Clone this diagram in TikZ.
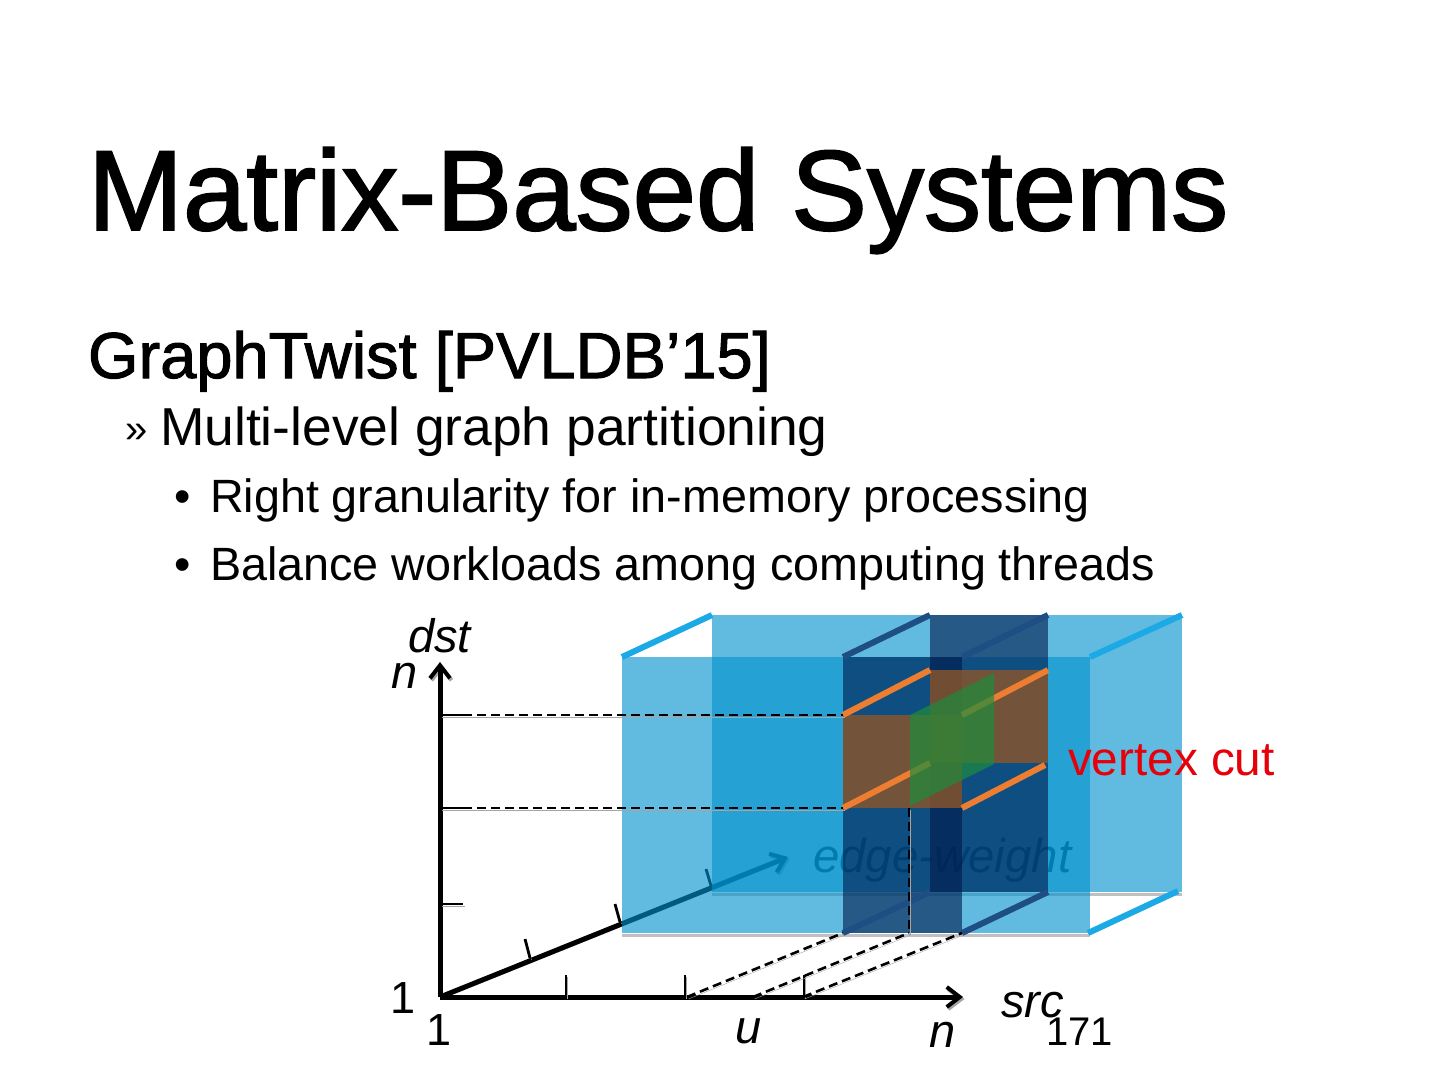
\documentclass[tikz,border=0pt]{standalone}
\usepackage{fontspec}
\setmainfont{Liberation Sans}
\newfontfamily\headfont{Liberation Sans}[FakeBold=1.6]
\usetikzlibrary{arrows.meta}
\definecolor{lb}{RGB}{0,145,205}
\definecolor{db}{RGB}{0,24,74}
\definecolor{br}{RGB}{140,85,40}
\definecolor{gr}{RGB}{30,140,60}
\definecolor{orng}{RGB}{237,125,49}
\definecolor{lbedge}{RGB}{28,170,230}
\definecolor{dbedge}{RGB}{31,78,133}
\definecolor{shadowc}{RGB}{165,165,165}
\definecolor{vcred}{RGB}{230,0,10}
\newcommand\setfs[1]{\fontsize{#1}{#1}\selectfont}
\tikzset{
  txt/.style={anchor=base west, inner sep=0pt, outer sep=0pt},
  lbl/.style={txt, font=\setfs{47}\itshape},
  num/.style={txt, font=\setfs{45}},
  shad/.style={preaction={draw=shadowc, transform canvas={shift={(1.5pt,-2pt)}}}},
  axisline/.style={line width=5pt, black, shad},
  axtip/.style={-{Straight Barb[length=13pt,width=20pt,line width=4pt]}},
  tickline/.style={line width=2.8pt, black, shad},
  dashline/.style={line width=2.6pt, black, dash pattern=on 9pt off 5pt, shad},
  lightface/.style={fill=lb, fill opacity=0.62},
  darkface/.style={fill=db, fill opacity=0.6},
  brownface/.style={fill=br, fill opacity=0.8},
  greenface/.style={fill=gr, fill opacity=0.7},
  lightedge/.style={line width=6pt, lbedge, shad},
  darkedge/.style={line width=6pt, dbedge},
  orangeedge/.style={line width=6pt, orng},
}
\begin{document}
\begin{tikzpicture}[x=1pt, y=-1pt]
\useasboundingbox (0,0) rectangle (1440,1080);

% ---------------- texts of the slide ----------------
\node[txt, font=\headfont\setfs{114}] (title) at (88,230) {Matrix-Based Systems};
\node[txt, font=\headfont\setfs{65}] (sub) at (88,378) {GraphTwist [PVLDB’15]};
\node[txt, font=\setfs{40}] (b1m) at (125,442) {»};
\node[txt, font=\setfs{53.4}] (b1) at (160,445) {Multi-level graph partitioning};
\node[txt, font=\setfs{46.7}] (b2m) at (174,512) {•};
\node[txt, font=\setfs{46.7}] (b2) at (210,512) {Right granularity for in-memory processing};
\node[txt, font=\setfs{46.7}] (b3m) at (174,580) {•};
\node[txt, font=\setfs{46.7}] (b3) at (210,580) {Balance workloads among computing threads};

% ---------------- coordinates ----------------
\coordinate (O) at (440,997);
\coordinate (dsttip) at (440,662);
\coordinate (srctip) at (963,997);
\coordinate (ewtip) at (788,857);

% edge-weight label and axis (under the translucent slabs)
\node[lbl, font=\setfs{47.4}\itshape] (ew) at (813,872) {edge-weight};
\draw[axisline, axtip] (O) -- (ewtip);
\coordinate (et1a) at (530,958); \coordinate (et1b) at (525,939);
\coordinate (et2a) at (620,922); \coordinate (et2b) at (615,904);
\coordinate (et3a) at (712,889); \coordinate (et3b) at (706,869);
\draw[tickline] (et1a) -- (et1b);
\draw[tickline] (et2a) -- (et2b);
\draw[tickline] (et3a) -- (et3b);

% shadows of the big slab
\coordinate (sh1a) at (622,935.5); \coordinate (sh1b) at (1090,935.5);
\coordinate (sh2a) at (712,894.5); \coordinate (sh2b) at (1182,894.5);
\draw[shadowc!70, line width=3pt] (sh1a) -- (sh1b);
\draw[shadowc!70, line width=3pt] (sh2a) -- (sh2b);

% light slab faces
\coordinate (LB1) at (712,615); \coordinate (LB2) at (1182,892);
\coordinate (LF1) at (622,657); \coordinate (LF2) at (1090,933);
\fill[lightface] (LB1) rectangle (LB2);
\fill[lightface] (LF1) rectangle (LF2);

% dark slab faces
\coordinate (DB1) at (930,615); \coordinate (DB2) at (1048,892);
\coordinate (DF1) at (843,657); \coordinate (DF2) at (962,933);
\fill[darkface] (DB1) rectangle (DB2);
\fill[darkface] (DF1) rectangle (DF2);

% brown block faces
\coordinate (BB1) at (930,670); \coordinate (BB2) at (1048,763);
\coordinate (BF1) at (843,715); \coordinate (BF2) at (962,808);
\fill[brownface] (BB1) rectangle (BB2);
\fill[brownface] (BF1) rectangle (BF2);

% orange edges of the brown block
\coordinate (BTL) at (930,670); \coordinate (BTR) at (1048,670);
\coordinate (BBL) at (930,763); \coordinate (BBR) at (1045,765);
\coordinate (FTL) at (843,715); \coordinate (FTR) at (962,715);
\coordinate (FBL) at (843,808); \coordinate (FBR) at (962,808);
\draw[orangeedge] (FTL) -- (BTL);
\draw[orangeedge] (FTR) -- (BTR);
\draw[orangeedge] (FBL) -- (BBL);
\draw[orangeedge] (FBR) -- (BBR);

% green cut plane
\coordinate (G1) at (910,715); \coordinate (G2) at (994,673);
\coordinate (G3) at (994,764); \coordinate (G4) at (910,806);
\fill[greenface] (G1) -- (G2) -- (G3) -- (G4) -- cycle;

% depth edges of the slabs
\coordinate (le1a) at (622,657); \coordinate (le1b) at (712,615);
\coordinate (le2a) at (1090,657); \coordinate (le2b) at (1182,615);
\coordinate (le3a) at (1088,933); \coordinate (le3b) at (1178,891);
\draw[lightedge] (le1a) -- (le1b);
\draw[lightedge] (le2a) -- (le2b);
\draw[lightedge] (le3a) -- (le3b);
\coordinate (de1a) at (843,657); \coordinate (de1b) at (930,615);
\coordinate (de2a) at (962,657); \coordinate (de2b) at (1048,615);
\coordinate (de3a) at (843,933); \coordinate (de3b) at (930,892);
\coordinate (de4a) at (962,933); \coordinate (de4b) at (1048,892);
\draw[darkedge] (de1a) -- (de1b);
\draw[darkedge] (de2a) -- (de2b);
\draw[darkedge] (de3a) -- (de3b);
\draw[darkedge] (de4a) -- (de4b);

% axes
\draw[axisline, axtip] (O) -- (dsttip);
\draw[axisline, axtip] (O) -- (srctip);

% ticks on dst axis
\coordinate (dt1a) at (440,715); \coordinate (dt1b) at (463,715);
\coordinate (dt2a) at (440,808); \coordinate (dt2b) at (463,808);
\coordinate (dt3a) at (440,904); \coordinate (dt3b) at (463,904);
\draw[tickline] (dt1a) -- (dt1b);
\draw[tickline] (dt2a) -- (dt2b);
\draw[tickline] (dt3a) -- (dt3b);
% ticks on src axis
\coordinate (st1a) at (566,997); \coordinate (st1b) at (566,975);
\coordinate (st2a) at (685,997); \coordinate (st2b) at (685,975);
\coordinate (st3a) at (804,997); \coordinate (st3b) at (804,975);
\draw[tickline] (st1a) -- (st1b);
\draw[tickline] (st2a) -- (st2b);
\draw[tickline] (st3a) -- (st3b);

% dashed projection lines
\draw[dashline] (dt1b) -- (FTL);
\draw[dashline] (dt2b) -- (FBL);
\coordinate (vtop) at (909,808); \coordinate (vbot) at (909,933);
\draw[dashline] (vtop) -- (vbot);
\coordinate (p1) at (687,997); \coordinate (p2) at (753,997); \coordinate (p3) at (803,997);
\draw[dashline] (p1) -- (de3a);
\draw[dashline] (p2) -- (vbot);
\draw[dashline] (p3) -- (de4a);

% labels
\node[lbl] (dst) at (408,652) {dst};
\node[lbl] (ntop) at (391,688) {n};
\node[num] (oneL) at (390,1013) {1};
\node[num] (oneB) at (426,1045) {1};
\node[lbl] (u) at (735,1043) {u};
\node[lbl] (nb) at (929,1047) {n};
\node[lbl] (src) at (1001,1017) {src};
\node[txt, font=\setfs{40}] (pg) at (1046,1045) {171};
\node[txt, font=\setfs{47.7}, text=vcred] (vc) at (1068,775) {vertex cut};
\end{tikzpicture}
\end{document}
